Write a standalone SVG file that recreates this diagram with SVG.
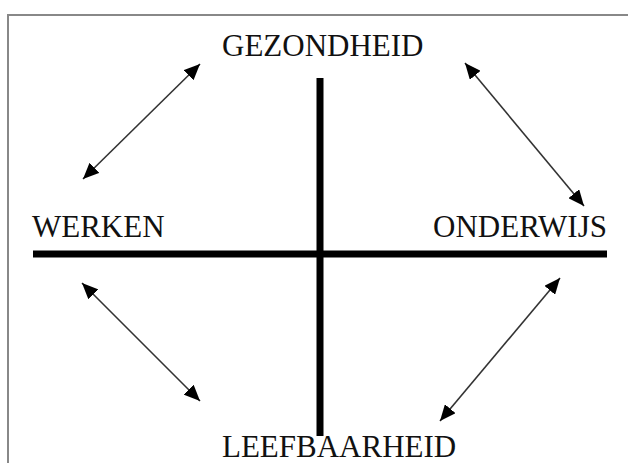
<svg xmlns="http://www.w3.org/2000/svg" width="628" height="463" viewBox="0 0 628 463">
<style>
.lbl{font-family:"Liberation Serif","Times New Roman",serif;font-size:31px;fill:#111;}
.axis{stroke:#000;stroke-width:7;}
.arr{stroke:#333;stroke-width:1.6;fill:none;marker-start:url(#ah);marker-end:url(#ah);}
</style>
<defs>
<marker id="ah" viewBox="0 0 16 14" refX="16" refY="7" markerWidth="16" markerHeight="14" markerUnits="userSpaceOnUse" orient="auto-start-reverse">
<path d="M0,0 L16,7 L0,14 z" fill="#000"/>
</marker>
</defs>
<rect width="628" height="463" fill="#fff"/>
<path d="M8,463 L8,15 L628,15" fill="none" stroke="#888" stroke-width="2"/>
<g id="axes">
<line class="axis" x1="320" y1="78" x2="320" y2="436"/>
<line class="axis" x1="33" y1="254" x2="607" y2="254"/>
</g>
<g id="gezondheid"><text class="lbl" x="222" y="56">GEZONDHEID</text></g>
<g id="werken"><text class="lbl" x="32" y="237">WERKEN</text></g>
<g id="onderwijs"><text class="lbl" x="607" y="237" text-anchor="end">ONDERWIJS</text></g>
<g id="leefbaarheid"><text class="lbl" x="222" y="457">LEEFBAARHEID</text></g>
<g id="connectors">
<line class="arr" x1="83" y1="179" x2="200" y2="64"/>
<line class="arr" x1="465" y1="63" x2="584" y2="206"/>
<line class="arr" x1="82" y1="283" x2="200" y2="401"/>
<line class="arr" x1="560" y1="278" x2="440" y2="421"/>
</g>
</svg>
